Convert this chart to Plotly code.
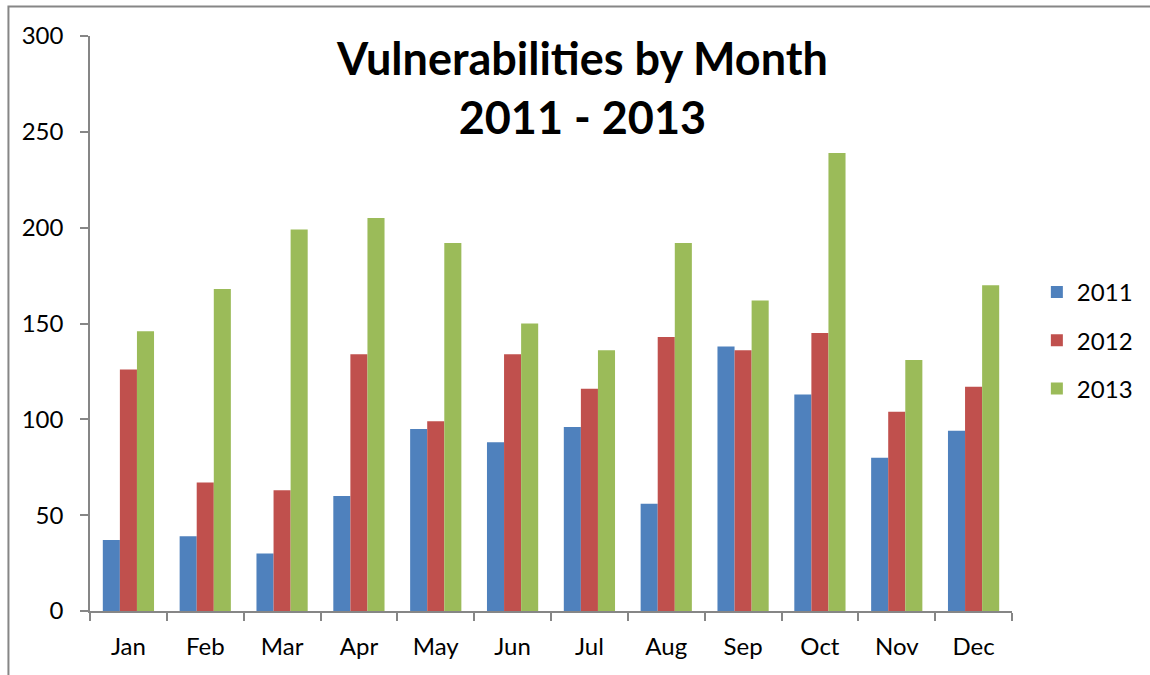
import plotly.graph_objects as go

months = ["Jan", "Feb", "Mar", "Apr", "May", "Jun", "Jul", "Aug", "Sep", "Oct", "Nov", "Dec"]
series_names = ["2011", "2012", "2013"]
vals_2011 = [37, 39, 30, 60, 95, 88, 96, 56, 138, 113, 80, 94]
vals_2012 = [126, 67, 63, 134, 99, 134, 116, 143, 136, 145, 104, 117]
vals_2013 = [146, 168, 199, 205, 192, 150, 136, 192, 162, 239, 131, 170]
y_ticks = [0, 50, 100, 150, 200, 250, 300]

colors = ["#4F81BD", "#C0504D", "#9BBB59"]
FONT = "Lato"
AXIS_GRAY = "#868686"

W, H = 1150, 675
L, R, T, B = 90, 133, 36, 64
plot_w = W - L - R
plot_h = H - T - B

fig = go.Figure()
for name, vals, col in zip(series_names, [vals_2011, vals_2012, vals_2013], colors):
    fig.add_trace(go.Bar(
        x=months, y=vals, name=name, legendgroup=name,
        marker=dict(color=col, line=dict(width=0)),
    ))

fig.update_layout(
    width=W, height=H,
    margin=dict(l=L, r=R, t=T, b=B),
    paper_bgcolor="white", plot_bgcolor="white",
    barmode="group", bargap=1/3, bargroupgap=0,
    font=dict(family=FONT, size=24, color="black"),
    showlegend=True,
    legend=dict(
        x=(1042 - L) / plot_w, y=(T + plot_h - 296 + 26) / plot_h,
        xanchor="left", yanchor="top",
        font=dict(family=FONT, size=24),
        tracegroupgap=14, bgcolor="rgba(0,0,0,0)",
    ),
    xaxis=dict(
        showline=True, linecolor=AXIS_GRAY, linewidth=1.5,
        ticks="outside", tickson="boundaries", ticklen=8, tickcolor=AXIS_GRAY, tickwidth=1.5,
        showgrid=False, tickfont=dict(family=FONT, size=24),
        ticklabelstandoff=13,
    ),
    yaxis=dict(
        range=[0, 300], tickvals=y_ticks,
        showline=True, linecolor=AXIS_GRAY, linewidth=1.5,
        ticks="outside", ticklen=8, tickcolor=AXIS_GRAY, tickwidth=1.5,
        showgrid=False, zeroline=False, tickfont=dict(family=FONT, size=24),
        ticklabelstandoff=12,
    ),
    annotations=[dict(
        text="<b>Vulnerabilities by Month<br>2011 - 2013</b>",
        xref="paper", yref="paper",
        x=(585 - L) / plot_w, y=(T + plot_h - 87) / plot_h,
        xanchor="center", yanchor="middle", showarrow=False,
        font=dict(family=FONT, size=45, color="black"),
    )],
    shapes=[dict(
        type="rect", xref="paper", yref="paper",
        x0=(8 - L) / plot_w, x1=(W + 20 - L) / plot_w,
        y0=(T + plot_h - (H + 20)) / plot_h, y1=(T + plot_h - 6.5) / plot_h,
        line=dict(color=AXIS_GRAY, width=2), fillcolor="rgba(0,0,0,0)", layer="below",
    )],
)

fig.write_html("out.html")
